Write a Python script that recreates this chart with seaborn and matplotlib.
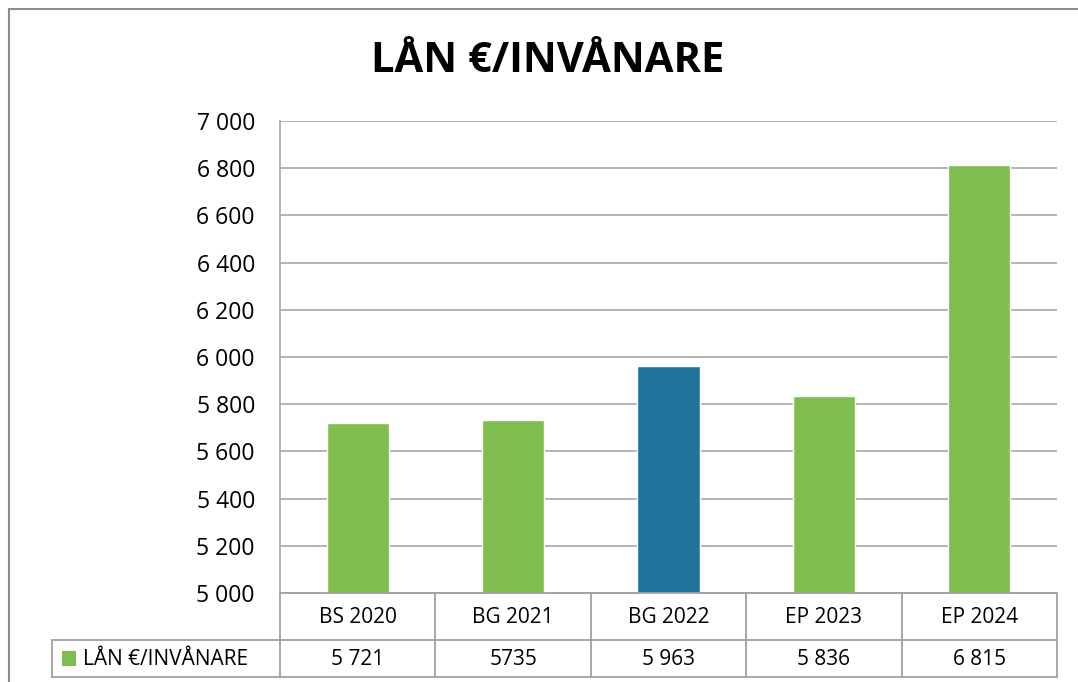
import matplotlib
matplotlib.use("Agg")
import matplotlib.pyplot as plt
from matplotlib.lines import Line2D
from matplotlib.patches import Rectangle
import matplotlib.ticker as mticker
import pandas as pd
import seaborn as sns

# data
categories = ["BS 2020", "BG 2021", "BG 2022", "EP 2023", "EP 2024"]
values = [5721, 5735, 5963, 5836, 6815]
value_labels = ["5 721", "5735", "5 963", "5 836", "6 815"]
series_name = "LÅN €/INVÅNARE"
title = "LÅN €/INVÅNARE"
bar_colors = ["#80bd4f", "#80bd4f", "#21739b", "#80bd4f", "#80bd4f"]
y_ticks = list(range(5000, 7001, 200))

W, H = 1078, 682
sns.set_theme(style="white")
plt.rcParams["font.family"] = ["Open Sans", "DejaVu Sans"]
plt.rcParams["text.color"] = "black"

df = pd.DataFrame({"cat": categories, "val": values})

fig = plt.figure(figsize=(W / 100, H / 100), dpi=100)
fig.patch.set_facecolor("white")


def fx(px):
    return px / W


def fy(py):
    return 1 - py / H


left, right, top, bottom = 280, 1057, 121, 593
ax = fig.add_axes([fx(left), fy(bottom), fx(right - left), fy(top) - fy(bottom)])
sns.barplot(df, x="cat", y="val", hue="cat", palette=bar_colors, width=0.4,
            legend=False, ax=ax, saturation=1)
ax.set_ylim(5000, 7000)
ax.set_xlim(-0.5, len(categories) - 0.5)
ax.set_yticks(y_ticks)
ax.yaxis.set_major_formatter(mticker.FuncFormatter(lambda v, p: f"{int(v):,}".replace(",", " ")))
ax.tick_params(axis="y", labelsize=16.5, length=0, pad=18, colors="black")
ax.set_xticks([])
ax.set_xlabel("")
ax.set_ylabel("")
ax.grid(axis="y", color="#a6a6a6", linewidth=1.2)
ax.set_axisbelow(True)
for s in ["top", "right", "bottom"]:
    ax.spines[s].set_visible(False)
ax.spines["left"].set_color("#a6a6a6")
ax.spines["left"].set_linewidth(1.2)

# title
fig.text(fx(548), fy(61), title, ha="center", va="center", fontsize=30,
         fontweight="bold", color="black")

# outer chart border (left and top)
lc = "#8c8c8c"
fig.add_artist(Line2D([fx(9), fx(9)], [fy(9), fy(H + 5)], transform=fig.transFigure, color=lc, lw=1.5))
fig.add_artist(Line2D([fx(9), fx(W + 5)], [fy(9), fy(9)], transform=fig.transFigure, color=lc, lw=1.5))

# data table
tc = "#a0a0a0"
row1, row2, row3 = 593, 640, 677
col_w = (right - left) / len(categories)


def hline(x0, x1, y):
    fig.add_artist(Line2D([fx(x0), fx(x1)], [fy(y), fy(y)], transform=fig.transFigure, color=tc, lw=1.3))


def vline(x, y0, y1):
    fig.add_artist(Line2D([fx(x), fx(x)], [fy(y0), fy(y1)], transform=fig.transFigure, color=tc, lw=1.3))


hline(left, right, row1)
hline(52, right, row2)
hline(52, right, row3)
vline(52, row2, row3)
for i in range(len(categories) + 1):
    vline(left + i * col_w, row1, row3)

for i, (c, v) in enumerate(zip(categories, value_labels)):
    cx = left + (i + 0.5) * col_w
    fig.text(fx(cx), fy((row1 + row2) / 2 + 1), c, ha="center", va="center", fontsize=15)
    fig.text(fx(cx), fy((row2 + row3) / 2 + 1), v, ha="center", va="center", fontsize=15)

fig.add_artist(Rectangle((fx(62), fy(666)), fx(14), fy(651) - fy(666), transform=fig.transFigure,
                         facecolor=bar_colors[0], edgecolor="none"))
fig.text(fx(83), fy((row2 + row3) / 2 + 1), series_name, ha="left", va="center", fontsize=15)

fig.savefig("out.png", dpi=100, facecolor="white")
